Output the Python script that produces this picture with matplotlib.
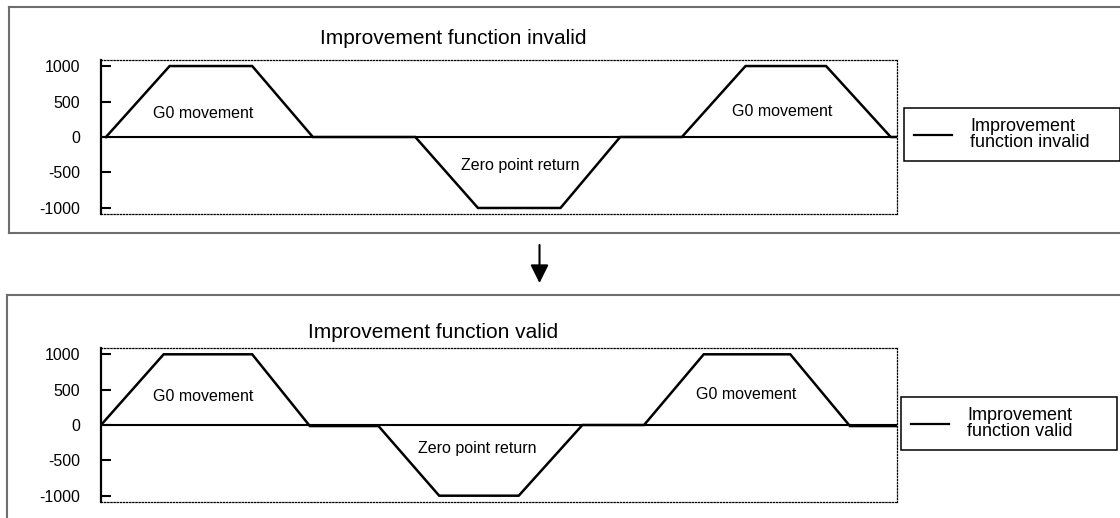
import matplotlib
matplotlib.use('Agg')
import matplotlib.pyplot as plt
from matplotlib.lines import Line2D

plt.rcParams['font.family'] = ['Liberation Sans', 'DejaVu Sans']

# ============================================================================
# 数据（x 为时间轴任意单位，y 为速度）
# ============================================================================

# 改善功能无效
x_invalid = [5, 69, 152, 213, 316, 379, 462, 522, 584, 648, 729, 794, 800]
y_invalid = [0, 1000, 1000, 0, 0, -1000, -1000, 0, 0, 1000, 1000, 0, 0]

# 改善功能有效
x_valid = [0, 63, 152, 210, 279, 340, 420, 484, 546, 606, 693, 753, 800]
y_valid = [0, 1000, 1000, -15, -15, -1000, -1000, 0, 0, 1000, 1000, -15, -15]

y_ticks = [-1000, -500, 0, 500, 1000]

# 区段标注
note_labels = ['G0 movement', 'Zero point return', 'G0 movement']
note_x_invalid = [103, 422, 685]
note_y_invalid = [338, -395, 366]
note_x_valid = [103, 378, 649]
note_y_valid = [408, -328, 432]

titles = ['Improvement function invalid', 'Improvement function valid']
legend_labels = ['Improvement\nfunction invalid', 'Improvement\nfunction valid']

W, H = 1120, 518
fig = plt.figure(figsize=(W / 100, H / 100), dpi=100)


def fx(px):
    return px / W


def fy(py):
    return 1 - py / H


def draw_panel(ax, x, y, nx, ny, title, label, title_xy, leg_box):
    ax.plot(x, y, color='black', linewidth=1.8, label=label, solid_joinstyle='miter')
    ax.axhline(0, color='black', linewidth=1.5, zorder=1)

    for t, tx, ty in zip(note_labels, nx, ny):
        ax.text(tx, ty, t, ha='center', va='center', fontsize=11.5)

    ax.set_xlim(0, 800)
    ax.set_ylim(-1085, 1085)
    ax.set_xticks([])
    ax.set_yticks(y_ticks)
    ax.set_yticklabels([str(v) for v in y_ticks])
    ax.tick_params(axis='y', direction='in', length=7, width=1.5, pad=15, labelsize=11.5)

    # 左侧实线，其余为点线
    ax.spines['left'].set_linewidth(1.6)
    for s in ['top', 'right', 'bottom']:
        ax.spines[s].set_linestyle((0, (1, 1.5)))
        ax.spines[s].set_linewidth(0.9)

    fig.text(fx(title_xy[0]), fy(title_xy[1]), title, ha='center', va='center', fontsize=15)

    x0, y0, x1, y1 = leg_box
    leg = ax.legend(loc='center left', bbox_to_anchor=(fx(x0), fy(y1), fx(x1) - fx(x0), fy(y0) - fy(y1)),
                    bbox_transform=fig.transFigure, mode='expand', borderaxespad=0,
                    fontsize=13, handlelength=2.1, handletextpad=1.0, borderpad=0.55,
                    fancybox=False, framealpha=1, edgecolor='black')
    leg.get_frame().set_linewidth(1.1)
    for t in leg.get_texts():
        t.set_linespacing(0.95)
    for h in leg.get_lines():
        h.set_linewidth(1.6)


# 上图
ax1 = fig.add_axes([fx(101), fy(214), fx(896.7) - fx(101), fy(60) - fy(214)])
draw_panel(ax1, x_invalid, y_invalid, note_x_invalid, note_y_invalid,
           titles[0], legend_labels[0], (453, 39), (904, 107, 1120, 162))

# 下图
ax2 = fig.add_axes([fx(101), fy(501.7), fx(896.7) - fx(101), fy(348.3) - fy(501.7)])
draw_panel(ax2, x_valid, y_valid, note_x_valid, note_y_valid,
           titles[1], legend_labels[1], (433, 333), (901, 398, 1117, 449))

# 外框（灰色，右侧和底部被裁掉）
gray = '#6e6e6e'
for (xa, ya, xb, yb) in [(9, 7, 1125, 7), (9, 7, 9, 233), (9, 233, 1125, 233),
                         (7, 295, 1125, 295), (7, 295, 7, 525)]:
    fig.add_artist(Line2D([fx(xa), fx(xb)], [fy(ya), fy(yb)], color=gray, linewidth=1.5,
                          transform=fig.transFigure))

# 中间的向下箭头
ax1.annotate('', xy=(fx(539.5), fy(283)), xytext=(fx(539.5), fy(245)),
             xycoords='figure fraction', textcoords='figure fraction', annotation_clip=False,
             arrowprops=dict(arrowstyle='-|>,head_length=1.1,head_width=0.55', mutation_scale=10,
                             color='black', linewidth=1.5, shrinkA=0, shrinkB=0))

plt.savefig('out.png', dpi=100)
plt.close()
